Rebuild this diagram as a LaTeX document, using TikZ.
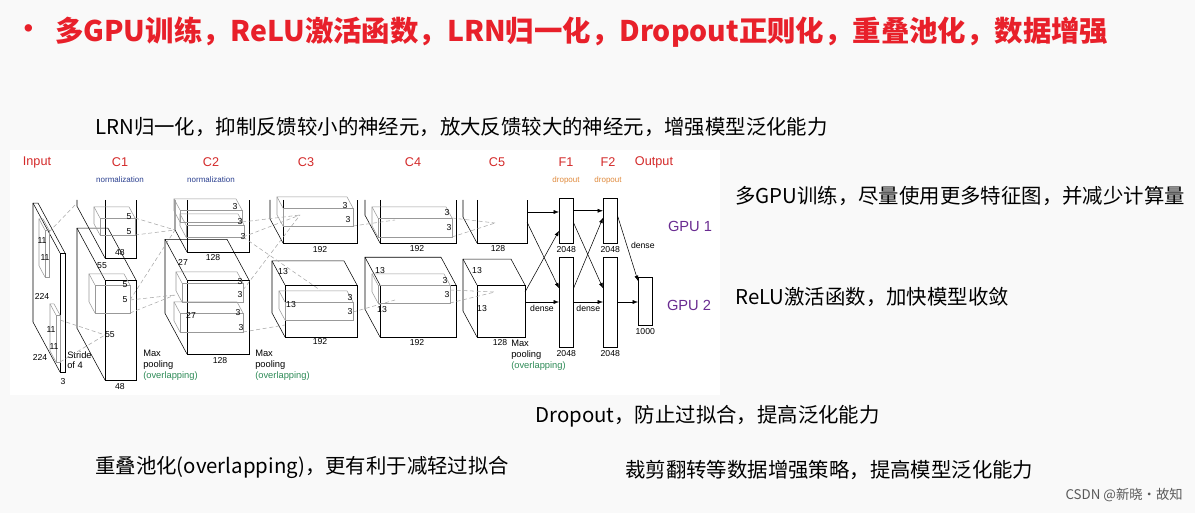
\documentclass[tikz,border=0pt]{standalone}
\usepackage{fontspec}
\setmainfont{Liberation Sans}
\newfontfamily\cjk{Noto Sans CJK SC}
\usetikzlibrary{arrows.meta,calc,positioning}
\definecolor{titred}{HTML}{E8202A}
\definecolor{lyrred}{HTML}{D42A2A}
\definecolor{nrmblue}{HTML}{2A3F8F}
\definecolor{dropor}{HTML}{E08A3C}
\definecolor{ovgreen}{HTML}{2E8B57}
\definecolor{gpupurp}{HTML}{6A2C91}
% front face (x1,y1)-(x2,y2), back face shifted by (-dx,-dy)
\newcommand\blk[6]{%
  \draw[#1] (#2,#3) rectangle (#4,#5);
  \draw[#1] (#4,#3) -- ++(-#6,-#6*1.85) -- ++(#2-#4,0) -- ++(0,#5-#3) -- (#2,#5);
  \draw[#1] (#2,#3) -- ++(-#6,-#6*1.85);}
% open-top block for the GPU 1 row
\newcommand\ublk[5]{%
  \draw (#1,#2) -- (#1,#3) -- (#4,#3) -- (#4,#2);
  \draw (#1,#3) -- ++(-#5,-#5*1.85) -- (#1-#5,#2);}
\tikzset{
  lyr/.style={text=lyrred,font=\fontsize{9.5}{9.5}\selectfont},
  nrm/.style={text=nrmblue,font=\fontsize{6}{6}\selectfont},
  drp/.style={text=dropor,font=\fontsize{6}{6}\selectfont},
  dim/.style={font=\fontsize{6.5}{6.5}\selectfont,inner sep=0pt},
  pool/.style={font=\fontsize{7}{8}\selectfont,align=left,anchor=north west,inner sep=0pt},
  note/.style={font=\cjk\fontsize{15.3}{15.3}\selectfont,anchor=west,inner sep=0pt},
  kern/.style={gray!80,thin},
  fc/.style={draw,minimum width=10.5pt,inner sep=0pt},
  rf/.style={gray!70,densely dashed,thin},
  arr/.style={-{Latex[length=4pt]},thin}
}
\begin{document}
\begin{tikzpicture}[x=0.75pt,y=-0.75pt]
\useasboundingbox (0,0) rectangle (1195,513);
\fill[gray!5] (0,0) rectangle (1195,513);
\fill[white] (10,150) rectangle (720,395);
% title
\node[text=titred,font=\cjk\bfseries\fontsize{20}{20}\selectfont,inner sep=0pt] (bul) at (29,32) {•};
\node[text=titred,font=\cjk\bfseries\fontsize{21.3}{21.3}\selectfont,anchor=west,inner sep=0pt] (title) at (55,32)
  {多GPU训练，ReLU激活函数，LRN归一化，Dropout正则化，重叠池化，数据增强};
% layer names
\foreach \nm/\x/\t in {in/37/Input,c1/120/C1,c2/211/C2,c3/306/C3,c4/413/C4,c5/497/C5,f1/566/F1,f2/608/F2,out/654/Output}
  \node[lyr] (l\nm) at (\x,162) {\t};
\node[nrm] (n1) at (120,180) {normalization};
\node[nrm] (n2) at (211,180) {normalization};
\node[drp] (d1) at (566,180) {dropout};
\node[drp] (d2) at (608,180) {dropout};
% input
\blk{}{60}{253}{65}{372}{27}
\blk{kern}{45}{230}{49}{277}{6}
\blk{kern}{56}{315}{60}{362}{6}
\node[dim] at (42,241) {11}; \node[dim] at (45,258) {11};
\node[dim] at (51,330) {11}; \node[dim] at (54,347) {11};
\node[dim] at (42,296) {224}; \node[dim] at (40,357) {224};
\node[dim] at (63,382) {3};
\node[pool] at (67,351) {Stride\\of 4};
% C1
\blk{}{105}{280}{136}{380}{28}
\ublk{105}{200}{258}{136}{28}
\blk{kern}{100}{218}{135}{235}{6}
\blk{kern}{95}{285}{130}{313}{6}
\foreach \y in {217,232} \node[dim] at (129,\y) {5};
\foreach \y in {285,300} \node[dim] at (125,\y) {5};
\node[dim] at (102,266) {55}; \node[dim] at (120,253) {48};
\node[dim] at (110,335) {55}; \node[dim] at (120,387) {48};
\node[pool] at (143,350) {Max\\pooling\\\textcolor{ovgreen}{(overlapping)}};
% C2
\blk{}{187}{280}{249}{354}{22}
\ublk{187}{200}{252}{249}{12}
\blk{kern}{180}{210}{242}{222}{6}
\blk{kern}{186}{225}{244}{237}{6}
\blk{kern}{182}{283}{243}{302}{6}
\blk{kern}{180}{313}{243}{332}{6}
\foreach \x/\y in {235/207,240/222,243/237,240/282,240/295,238/313,241/328} \node[dim] at (\x,\y) {3};
\node[dim] at (183,262) {27}; \node[dim] at (191,315) {27};
\node[dim] at (213,258) {128}; \node[dim] at (220,361) {128};
\node[pool] at (255,350) {Max\\pooling\\\textcolor{ovgreen}{(overlapping)}};
% C3
\blk{}{285}{285}{357}{337}{13}
\ublk{283}{200}{243}{357}{13}
\blk{kern}{283}{208}{353}{226}{6}
\blk{kern}{285}{302}{353}{320}{6}
\foreach \x/\y in {345/206,348/220,350/298,350/312} \node[dim] at (\x,\y) {3};
\node[dim] at (283,272) {13}; \node[dim] at (291,305) {13};
\node[dim] at (320,250) {192}; \node[dim] at (320,342) {192};
% C4
\blk{}{380}{285}{456}{337}{15}
\ublk{380}{200}{243}{456}{15}
\blk{kern}{378}{218}{452}{237}{6}
\blk{kern}{378}{285}{450}{303}{6}
\foreach \x/\y in {447/213,449/228,445/281,447/295} \node[dim] at (\x,\y) {3};
\node[dim] at (380,271) {13}; \node[dim] at (382,310) {13};
\node[dim] at (417,249) {192}; \node[dim] at (417,343) {192};
% C5
\blk{}{477}{285}{525}{337}{14}
\ublk{477}{200}{243}{527}{14}
\node[dim] at (477,271) {13}; \node[dim] at (482,309) {13};
\node[dim] at (498,249) {128}; \node[dim] at (500,343) {128};
\node[pool] at (511,340) {Max\\pooling\\\textcolor{ovgreen}{(overlapping)}};
% dashed receptive fields
\foreach \a/\b in {65/203, 65/208, 49/232, 60/320, 60/362, 135/218, 135/235, 130/300, 130/313,
  242/222, 243/237, 243/290, 243/332, 353/226, 353/312}
  \coordinate (k\a\b) at (\a,\b);
\draw[rf] (k49232) -- (77,203); \draw[rf] (k60320) -- (105,335); \draw[rf] (k60362) -- (105,335);
\draw[rf] (k135218) -- (175,230); \draw[rf] (k135235) -- (175,230);
\draw[rf] (k130300) -- (175,295); \draw[rf] (k130313) -- (175,295);
\draw[rf] (k130300) -- (175,230);
\draw[rf] (k242222) -- (300,215); \draw[rf] (k243237) -- (300,215);
\draw[rf] (k243290) -- (300,215); \draw[rf] (k243332) -- (285,325);
\draw[rf] (k243237) -- (320,290);
\draw[rf] (k353226) -- (395,220); \draw[rf] (k353312) -- (395,300);
\draw[rf] (452,218) -- (495,223); \draw[rf] (452,237) -- (495,223);
\draw[rf] (450,290) -- (495,292); \draw[rf] (450,303) -- (495,292);
% fully connected
\node[fc,minimum height=33.75pt,anchor=north west] (f1a) at (559,198) {};
\node[fc,minimum height=67.5pt,anchor=north west] (f1b) at (559,257) {};
\node[fc,minimum height=33.75pt,anchor=north west] (f2a) at (603,198) {};
\node[fc,minimum height=67.5pt,anchor=north west] (f2b) at (603,257) {};
\node[fc,minimum height=36pt,anchor=north west] (outb) at (638,277) {};
\foreach \n in {f1a,f1b,f2a,f2b} \node[dim,below=2pt] at (\n.south) {2048};
\node[dim,below=2pt] at (outb.south) {1000};
\coordinate (c5a) at (527,212); \coordinate (c5b) at (527,222);
\coordinate (c5c) at (525,292); \coordinate (c5d) at (525,302);
\draw[arr] (c5a) -- (f1a.west |- c5a);
\draw[arr] (c5b) -- ($(f1b.west)+(0,-14)$);
\draw[arr] (c5c) -- ($(f1a.west)+(0,10)$);
\draw[arr] (c5d) -- (f1b.west |- c5d) node[dim,midway,below=2pt] {dense};
\draw[arr] ($(f1a.east)+(0,-10)$) -- ($(f2a.west)+(0,-10)$);
\draw[arr] ($(f1a.east)+(0,2)$) -- ($(f2b.west)+(0,-14)$);
\draw[arr] ($(f1b.east)+(0,-14)$) -- ($(f2a.west)+(0,-3)$);
\draw[arr] (f1b.east |- c5d) -- (f2b.west |- c5d) node[dim,midway,below=2pt] {dense};
\draw[arr] ($(f2a.east)+(0,-5)$) -- ($(outb.north west)+(0,4)$) node[dim,pos=0.45,right=3pt] {dense};
\draw[arr] (f2b.east |- c5d) -- (outb.west |- c5d);
\node[text=gpupurp,font=\fontsize{11}{11}\selectfont] (g1) at (690,226) {GPU 1};
\node[text=gpupurp,font=\fontsize{11}{11}\selectfont] (g2) at (689,305) {GPU 2};
% notes
\node[note] (t1) at (95,127) {LRN归一化，抑制反馈较小的神经元，放大反馈较大的神经元，增强模型泛化能力};
\node[note] (t2) at (735,196) {多GPU训练，尽量使用更多特征图，并减少计算量};
\node[note] (t3) at (735,297) {ReLU激活函数，加快模型收敛};
\node[note] (t4) at (535,416) {Dropout，防止过拟合，提高泛化能力};
\node[note] (t5) at (95,467) {重叠池化(overlapping)，更有利于减轻过拟合};
\node[note] (t6) at (625,470) {裁剪翻转等数据增强策略，提高模型泛化能力};
\node[text=gray!70!black,font=\cjk\fontsize{10}{10}\selectfont,anchor=east,inner sep=0pt] (wm) at (1183,495) {CSDN @新晓·故知};
\end{tikzpicture}
\end{document}
